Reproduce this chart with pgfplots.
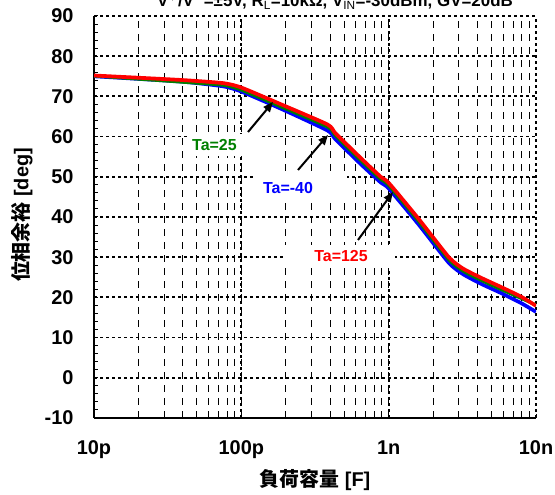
\documentclass[border=0pt]{standalone}
\usepackage{fontspec}
\setmainfont{Liberation Sans}
\newfontfamily\cjk{Noto Sans CJK JP}
\usepackage{pgfplots}
\pgfplotsset{compat=1.18}
\usetikzlibrary{arrows.meta}
\definecolor{cgreen}{RGB}{0,128,0}
\definecolor{cblue}{RGB}{0,0,255}
\definecolor{cred}{RGB}{255,0,0}
\begin{document}
\begin{tikzpicture}[x=1bp,y=1bp]
\useasboundingbox (-94,-77) rectangle (461,418);
\begin{axis}[at={(0,0)}, anchor=south west, scale only axis,
  width=442bp, height=402bp,
  xmode=log, xmin=10, xmax=10000, ymin=-10, ymax=90,
  xtick={10,100,1000,10000}, xticklabels={10p,100p,1n,10n},
  ytick={-10,0,10,20,30,40,50,60,70,80,90},
  yticklabels={-10,0,10,20,30,40,50,60,70,80,90},
  minor y tick num=4,
  axis x line=bottom, axis y line=left,
  axis line style={-, line width=1.3bp},
  tick align=inside, major tick length=4bp, minor tick length=4bp,
  tick style={black, line width=1bp},
  xmajorgrids, xminorgrids, ymajorgrids,
  major grid style={black, line width=1.8bp, dash pattern=on 3bp off 3bp},
  minor grid style={black, line width=1bp, dash pattern=on 7bp off 6bp},
  ticklabel style={font=\fontsize{20}{24}\selectfont\bfseries},
  xticklabel style={yshift=-19bp},
  yticklabel style={xshift=-17bp},
]
\addplot[cblue, line width=3.7bp, smooth, tension=0.35, line join=round] table {
10 75.0
38.5 73.7
75.4 72.5
100 71.2
184 67.0
385 61.5
436 59.3
645 53.2
882 48.6
1000 47.1
1600 38.1
2559 28.6
3187 25.8
4225 23.4
5779 21.1
7907 18.6
10000 16.4
};
\addplot[cgreen, line width=3.2bp, smooth, tension=0.35, line join=round] table {
10 75.1
38.5 73.6
75.4 72.8
100 71.6
184 67.5
385 62.4
436 60.2
645 54.1
882 49.4
1000 47.9
1600 38.9
2559 29.4
3187 26.6
4225 24.3
5779 22.0
7907 19.8
10000 18.1
};
\addplot[cred, line width=3.7bp, smooth, tension=0.35, line join=round] table {
10 75.2
38.5 74.1
75.4 73.3
100 72.2
184 68.1
385 63.0
436 60.8
645 54.7
882 50.0
1000 48.5
1600 39.5
2559 30.0
3187 27.2
4225 24.9
5779 22.6
7907 20.2
10000 17.9
};
\end{axis}
% white label boxes
\fill[white] (96,262) rectangle (168,284);
\fill[white] (161,218) rectangle (253,244);
\fill[white] (189,150) rectangle (301,173);
\node[anchor=west, inner sep=0, text=cgreen, font=\fontsize{16}{19}\selectfont\bfseries] at (98,273) {Ta=25};
\node[inner sep=0, text=cblue, font=\fontsize{16}{19}\selectfont\bfseries] at (194,230) {Ta=-40};
\node[inner sep=0, text=cred, font=\fontsize{16}{19}\selectfont\bfseries] at (247,162) {Ta=125};
% arrows
\draw[line width=2bp, -{Triangle[length=10bp,width=8bp]}] (154,286) -- (179,316);
\draw[line width=2bp, -{Triangle[length=10bp,width=8bp]}] (204,248) -- (234,283);
\draw[line width=2bp, -{Triangle[length=10bp,width=8bp]}] (264,178) -- (299,226);
% labels
\node[rotate=90, font=\fontsize{20}{24}\selectfont\bfseries] at (-72,203) {{\cjk\bfseries 位相余裕} [deg]};
\node[font=\fontsize{20}{24}\selectfont\bfseries] at (221,-62) {{\cjk\bfseries 負荷容量} [F]};
\node[anchor=base, font=\fontsize{17}{20}\selectfont\bfseries] at (241,411) {V$^{+}$/V$^{-}$=±5V, R$_{\mathrm{L}}$=10kΩ, V$_{\mathrm{IN}}$=-30dBm, GV=20dB};
\end{tikzpicture}
\end{document}
